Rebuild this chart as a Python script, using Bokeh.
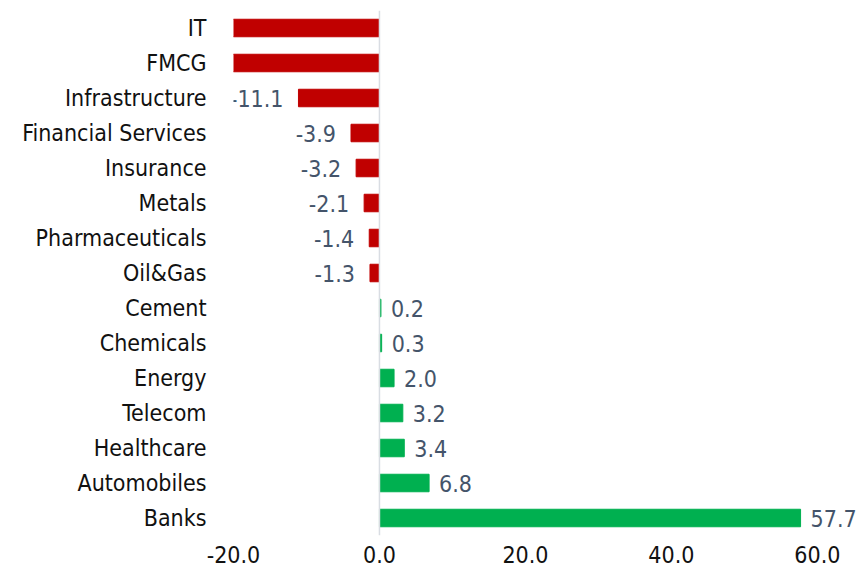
from bokeh.plotting import figure
from bokeh.models import ColumnDataSource, FactorRange, Range1d, Span, FixedTicker, CustomJSTickFormatter
from bokeh.core.properties import value
from bokeh.embed import file_html
from bokeh.resources import INLINE

sectors = ["IT", "FMCG", "Infrastructure", "Financial Services", "Insurance", "Metals",
           "Pharmaceuticals", "Oil&Gas", "Cement", "Chemicals", "Energy", "Telecom",
           "Healthcare", "Automobiles", "Banks"]
values = [-27.0, -23.5, -11.1, -3.9, -3.2, -2.1, -1.4, -1.3, 0.2, 0.3, 2.0, 3.2, 3.4, 6.8, 57.7]
x_ticks = [-20, 0, 20, 40, 60]

FONT = "DejaVu Sans Condensed"
RED = "#C00000"
GREEN = "#00B050"
LABEL = "#44546A"

colors = [RED if v < 0 else GREEN for v in values]
src = ColumnDataSource(dict(sector=sectors, val=values, color=colors))

p = figure(width=857, height=569, output_backend="svg", toolbar_location=None,
           y_range=FactorRange(factors=list(reversed(sectors)), range_padding=0),
           x_range=Range1d(-20, 65.5))
p.min_border_top = 10
p.min_border_left = 233
p.min_border_right = 0
p.min_border_bottom = 34
p.outline_line_color = None
p.background_fill_color = "white"
p.border_fill_color = "white"
p.grid.visible = False

p.hbar(y="sector", left=0, right="val", height=0.5, color="color", source=src)

zero = Span(location=0, dimension="height", line_color="#D9DDE3", line_width=1.5)
p.add_layout(zero)

neg = [i for i, v in enumerate(values) if -20 <= v < 0]
pos = [i for i, v in enumerate(values) if v >= 0]
nsrc = ColumnDataSource(dict(sector=[sectors[i] for i in neg], val=[values[i] for i in neg],
                             txt=["%.1f" % values[i] for i in neg]))
psrc = ColumnDataSource(dict(sector=[sectors[i] for i in pos], val=[values[i] for i in pos],
                             txt=["%.1f" % values[i] for i in pos]))
p.text(x="val", y="sector", text="txt", source=nsrc, x_offset=-15, text_align="right",
       text_baseline="middle", text_font=value(FONT), text_font_size="23px", text_color=LABEL)
p.text(x="val", y="sector", text="txt", source=psrc, x_offset=10, text_align="left",
       text_baseline="middle", text_font=value(FONT), text_font_size="23px", text_color=LABEL)

ya = p.yaxis[0]
ya.axis_line_color = None
ya.major_tick_line_color = None
ya.minor_tick_line_color = None
ya.major_label_text_font = FONT
ya.major_label_text_font_size = "23px"
ya.major_label_text_color = "#111111"
ya.major_label_standoff = 21

xa = p.xaxis[0]
xa.ticker = FixedTicker(ticks=x_ticks)
xa.formatter = CustomJSTickFormatter(code="return tick.toFixed(1);")
xa.axis_line_color = None
xa.major_tick_line_color = None
xa.minor_tick_line_color = None
xa.major_label_text_font = FONT
xa.major_label_text_font_size = "23px"
xa.major_label_text_color = "#111111"
xa.major_label_standoff = 4

open("out.html", "w").write(file_html(p, INLINE))
